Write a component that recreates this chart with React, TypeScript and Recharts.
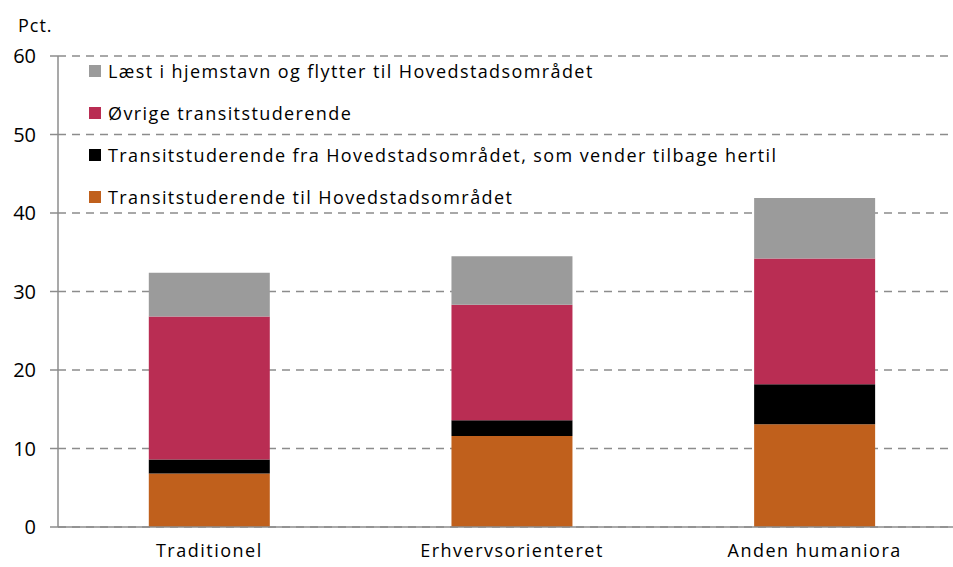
import { Bar, BarChart, CartesianGrid, Legend, XAxis, YAxis } from "recharts";

const categories = ["Traditionel", "Erhvervsorienteret", "Anden humaniora"];
const transitTil = [6.8, 11.6, 13.1];
const transitFra = [1.8, 2.0, 5.1];
const oevrige = [18.2, 14.7, 16.0];
const hjemstavn = [5.6, 6.2, 7.7];
const yTicks = [0, 10, 20, 30, 40, 50, 60];
const boundaryTicks = [0, 1, 2, 3];

const series = [
  { key: "transitTil", name: "Transitstuderende til Hovedstadsområdet", color: "#C0601C" },
  { key: "transitFra", name: "Transitstuderende fra Hovedstadsområdet, som vender tilbage hertil", color: "#000000" },
  { key: "oevrige", name: "Øvrige transitstuderende", color: "#B92D53" },
  { key: "hjemstavn", name: "Læst i hjemstavn og flytter til Hovedstadsområdet", color: "#9B9B9B" },
];

const data = categories.map((label, i) => ({
  label,
  transitTil: transitTil[i],
  transitFra: transitFra[i],
  oevrige: oevrige[i],
  hjemstavn: hjemstavn[i],
}));

const font = "'Open Sans', 'Noto Sans', sans-serif";
const axisColor = "#8c8c8c";

function LegendBox() {
  const items = [...series].reverse();
  return (
    <div style={{ fontFamily: font, fontSize: 18, letterSpacing: 1.4, color: "#000" }}>
      {items.map((s) => (
        <div key={s.key} style={{ display: "flex", alignItems: "center", height: 42, whiteSpace: "nowrap" }}>
          <span style={{ width: 12, height: 12, background: s.color, marginRight: 7, display: "inline-block" }} />
          <span>{s.name}</span>
        </div>
      ))}
    </div>
  );
}

export default function App() {
  return (
    <div
      style={{
        position: "absolute",
        left: 0,
        top: 0,
        width: 953,
        height: 567,
        overflow: "hidden",
        background: "#fff",
      }}
    >
      <div style={{ position: "absolute", left: 18, top: 13, fontFamily: font, fontSize: 18, letterSpacing: 1 }}>
        Pct.
      </div>
      <BarChart
        width={966}
        height={567}
        data={data}
        margin={{ top: 56, right: 0, left: 0, bottom: 0 }}
        barCategoryGap="30%"
      >
        <CartesianGrid vertical={false} stroke={axisColor} strokeDasharray="8 6" strokeWidth={1.5} />
        <XAxis
          xAxisId="bounds"
          type="number"
          domain={[0, 3]}
          ticks={boundaryTicks}
          allowDataOverflow
          height={0}
          axisLine={false}
          tickSize={8}
          tickLine={{ stroke: axisColor, strokeWidth: 1.5 }}
          tickFormatter={() => ""}
        />
        <XAxis
          dataKey="label"
          height={40}
          axisLine={{ stroke: axisColor, strokeWidth: 1.5 }}
          tickLine={false}
          tickSize={0}
          tickMargin={17}
          tick={{ fill: "#000", fontSize: 18, fontFamily: font, letterSpacing: 1.5 }}
        />
        <YAxis
          width={58}
          domain={[0, 60]}
          ticks={yTicks}
          axisLine={{ stroke: axisColor, strokeWidth: 1.5 }}
          tickLine={{ stroke: axisColor, strokeWidth: 1.5 }}
          tickSize={8}
          tickMargin={14}
          tick={{ fill: "#000", fontSize: 20, fontFamily: font }}
        />
        <Legend
          layout="vertical"
          align="center"
          verticalAlign="middle"
          wrapperStyle={{ left: 89, top: 50, width: "auto", height: "auto" }}
          content={() => <LegendBox />}
        />
        {series.map((s) => (
          <Bar
            key={s.key}
            dataKey={s.key}
            name={s.name}
            stackId="a"
            fill={s.color}
            isAnimationActive={false}
          />
        ))}
      </BarChart>
    </div>
  );
}
